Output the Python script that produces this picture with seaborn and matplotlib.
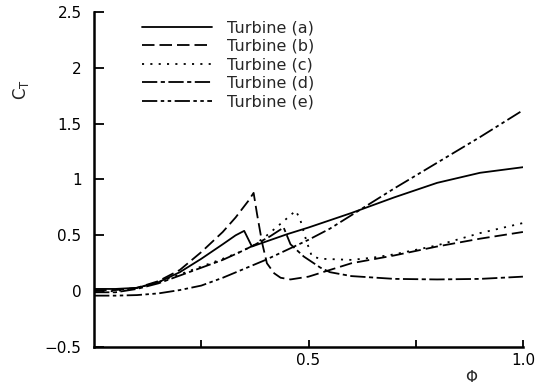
import numpy as np
import pandas as pd
import matplotlib
matplotlib.use("Agg")
import matplotlib.pyplot as plt
import seaborn as sns

# values
phi_a = [0, 0.05, 0.1, 0.15, 0.2, 0.25, 0.3, 0.33, 0.35, 0.368, 0.45, 0.5, 0.6, 0.7, 0.8, 0.9, 1.0]
ct_a = [0.02, 0.02, 0.03, 0.08, 0.17, 0.29, 0.42, 0.5, 0.54, 0.40, 0.51, 0.57, 0.70, 0.84, 0.97, 1.06, 1.11]

phi_b = [0, 0.05, 0.1, 0.15, 0.2, 0.25, 0.3, 0.33, 0.36, 0.372, 0.38, 0.392, 0.403, 0.42,
         0.435, 0.458, 0.5, 0.55, 0.6, 0.7, 0.8, 0.9, 1.0]
ct_b = [0.01, 0.01, 0.03, 0.09, 0.19, 0.35, 0.53, 0.66, 0.81, 0.88, 0.69, 0.43, 0.25, 0.16,
        0.12, 0.105, 0.13, 0.19, 0.25, 0.32, 0.40, 0.47, 0.53]

phi_c = [0, 0.05, 0.1, 0.15, 0.2, 0.25, 0.3, 0.34, 0.372, 0.4, 0.44, 0.47, 0.48, 0.495,
         0.508, 0.53, 0.6, 0.65, 0.7, 0.8, 0.9, 1.0]
ct_c = [0.0, 0.0, 0.03, 0.08, 0.15, 0.22, 0.29, 0.35, 0.41, 0.49, 0.62, 0.72, 0.65, 0.45,
        0.31, 0.29, 0.28, 0.30, 0.33, 0.41, 0.52, 0.61]

phi_d = [0, 0.05, 0.1, 0.15, 0.2, 0.25, 0.3, 0.34, 0.372, 0.41, 0.442, 0.458, 0.489, 0.528,
         0.55, 0.6, 0.7, 0.8, 0.9, 1.0]
ct_d = [-0.01, -0.01, 0.02, 0.07, 0.14, 0.21, 0.28, 0.35, 0.41, 0.49, 0.57, 0.42, 0.31, 0.21,
        0.17, 0.135, 0.11, 0.105, 0.11, 0.13]

phi_e = [0, 0.05, 0.1, 0.15, 0.2, 0.25, 0.3, 0.35, 0.4, 0.45, 0.5, 0.55, 0.6, 0.7, 0.8, 0.9, 1.0]
ct_e = [-0.04, -0.04, -0.035, -0.02, 0.01, 0.05, 0.12, 0.2, 0.28, 0.37, 0.46, 0.56, 0.68,
        0.92, 1.15, 1.38, 1.62]

labels = ["Turbine (a)", "Turbine (b)", "Turbine (c)", "Turbine (d)", "Turbine (e)"]
x_ticks = [0.25, 0.5, 0.75, 1.0]
x_ticklabels = ["", "0.5", "", "1.0"]
y_ticks = [-0.5, 0, 0.5, 1, 1.5, 2, 2.5]
y_ticklabels = ["\u22120.5", "0", "0.5", "1", "1.5", "2", "2.5"]

series = [(phi_a, ct_a), (phi_b, ct_b), (phi_c, ct_c), (phi_d, ct_d), (phi_e, ct_e)]
styles = ["-", (0, (9, 3.6)), (0, (1.5, 4.5)), (0, (11, 2.5, 3, 2.5)),
          (0, (11, 2.5, 2.5, 2.5, 2.5, 2.5))]

sns.set_style("ticks")
plt.rcParams["font.family"] = ["DejaVu Sans"]
plt.rcParams["lines.scale_dashes"] = False

fig = plt.figure(figsize=(5.47, 3.86), dpi=100)
ax = fig.add_axes([0.172, 0.101, 0.784, 0.868])

for (xs, ys), lab, ls in zip(series, labels, styles):
    df = pd.DataFrame({"phi": xs, "ct": ys})
    sns.lineplot(data=df, x="phi", y="ct", ax=ax, color="black", lw=1.3,
                 linestyle=ls, label=lab, sort=False)

ax.set_xlim(0, 1.0)
ax.set_ylim(-0.5, 2.5)
ax.set_xticks(x_ticks, labels=x_ticklabels, fontsize=11)
ax.set_yticks(y_ticks, labels=y_ticklabels, fontsize=11)
ax.tick_params(axis="y", direction="in", length=7, width=1.3, pad=9, colors="black")
ax.tick_params(axis="x", direction="in", length=5, width=1.3, pad=4, colors="black")
sns.despine(ax=ax)
for side in ["left", "bottom"]:
    ax.spines[side].set_linewidth(1.8)
    ax.spines[side].set_color("black")

ax.set_xlabel("")
ax.set_ylabel("")
ax.text(0.88, -0.09, "\u03a6", transform=ax.transAxes, fontsize=11,
        ha="center", va="center")
ax.text(-0.17, 0.767, "C$_\\mathregular{T}$", transform=ax.transAxes, fontsize=12,
        ha="center", va="center", rotation=90)

ax.legend(loc="upper left", bbox_to_anchor=(0.112, 0.975), frameon=False,
          fontsize=11.5, handlelength=4.4, handletextpad=0.9, labelspacing=0.22,
          borderpad=0, borderaxespad=0)

fig.savefig("out.png", dpi=100)
